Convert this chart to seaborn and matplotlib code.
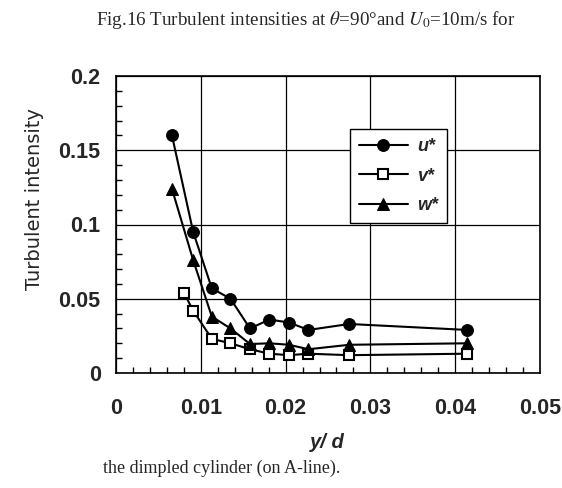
import numpy as np
import pandas as pd
import matplotlib
matplotlib.use("Agg")
import matplotlib.pyplot as plt
from matplotlib.ticker import MultipleLocator, FixedLocator
import seaborn as sns

# Measured profiles near the dimpled cylinder surface (theta = 90 deg, U0 = 10 m/s)
y_d_uw = [0.0066, 0.0091, 0.0113, 0.0135, 0.0158, 0.0181, 0.0204, 0.0227, 0.0275, 0.0414]
u_star = [0.160, 0.095, 0.057, 0.050, 0.030, 0.036, 0.034, 0.029, 0.033, 0.029]
w_star = [0.124, 0.076, 0.038, 0.030, 0.0195, 0.020, 0.019, 0.016, 0.019, 0.020]

y_d_v = [0.0080, 0.0091, 0.0113, 0.0135, 0.0158, 0.0181, 0.0204, 0.0227, 0.0275, 0.0414]
v_star = [0.054, 0.042, 0.023, 0.020, 0.016, 0.013, 0.012, 0.013, 0.012, 0.013]

x_ticks = [0, 0.01, 0.02, 0.03, 0.04, 0.05]
x_tick_labels = ["0", "0.01", "0.02", "0.03", "0.04", "0.05"]
y_ticks = [0, 0.05, 0.1, 0.15, 0.2]
y_tick_labels = ["0", "0.05", "0.1", "0.15", "0.2"]

sns.set_style("white")
plt.rcParams["font.family"] = ["Liberation Sans", "DejaVu Sans"]
plt.rcParams["mathtext.fontset"] = "stix"

W, H = 562, 488
fig = plt.figure(figsize=(W / 100, H / 100), dpi=100)
ax = fig.add_axes([116 / W, 1 - 373 / H, 424 / W, 297 / H])

df_u = pd.DataFrame({"y/d": y_d_uw, "val": u_star})
df_v = pd.DataFrame({"y/d": y_d_v, "val": v_star})
df_w = pd.DataFrame({"y/d": y_d_uw, "val": w_star})

lw = 1.5
sns.lineplot(data=df_u, x="y/d", y="val", ax=ax, color="black", lw=lw,
             marker="o", markersize=8.5, markeredgecolor="black",
             markerfacecolor="black", label="u*")
sns.lineplot(data=df_v, x="y/d", y="val", ax=ax, color="black", lw=lw,
             marker="s", markersize=6.5, markeredgecolor="black",
             markerfacecolor="white", markeredgewidth=1.5, label="v*")
sns.lineplot(data=df_w, x="y/d", y="val", ax=ax, color="black", lw=lw,
             marker="^", markersize=8.5, markeredgecolor="black",
             markerfacecolor="black", label="w*")

ax.set_xlim(0, 0.05)
ax.set_ylim(0, 0.2)

ax.xaxis.set_major_locator(FixedLocator(x_ticks))
ax.yaxis.set_major_locator(FixedLocator(y_ticks))
ax.set_xticklabels(x_tick_labels, fontsize=15.5, fontweight="bold")
ax.set_yticklabels(y_tick_labels, fontsize=15.5, fontweight="bold")
ax.xaxis.set_minor_locator(MultipleLocator(0.002))
ax.yaxis.set_minor_locator(MultipleLocator(0.01))
ax.tick_params(axis="both", which="major", length=0)
ax.tick_params(axis="y", which="major", pad=11)
ax.tick_params(axis="x", which="major", pad=18)
ax.tick_params(axis="both", which="minor", direction="in", length=4,
               width=1, color="black", bottom=True, left=True)

ax.grid(True, which="major", color="black", lw=0.9)
for s in ax.spines.values():
    s.set_color("black")
    s.set_linewidth(1.2)

ax.set_xlabel("y/ d", fontsize=14.5, fontweight="bold", style="italic", va="center")
ax.xaxis.set_label_coords((327 - 116) / 424, -(443 - 373) / 297)
ax.set_ylabel("Turbulent intensity", fontsize=14, family="DejaVu Sans", va="center")
ax.yaxis.set_label_coords(-(116 - 35) / 424, (373 - 199) / 297)

leg = ax.legend(loc="upper left", bbox_to_anchor=((350 - 116) / 424, (373 - 129) / 297),
                borderaxespad=0, frameon=True, fancybox=False, edgecolor="black",
                framealpha=1, handlelength=2.7, handletextpad=0.5,
                labelspacing=0.7, borderpad=0.5,
                prop={"size": 13, "weight": "bold", "style": "italic"})
leg.get_frame().set_linewidth(1.0)

fig.text(306 / W, 1 - 20 / H,
         r"Fig.16 Turbulent intensities at $\theta$=90°and $U_0$=10m/s for",
         ha="center", va="center", fontsize=13.7, family="Liberation Serif")
fig.text(103 / W, 1 - 468 / H, "the dimpled cylinder (on A-line).",
         ha="left", va="center", fontsize=13, family="Liberation Serif")

fig.savefig("out.png", dpi=100, facecolor="white")
